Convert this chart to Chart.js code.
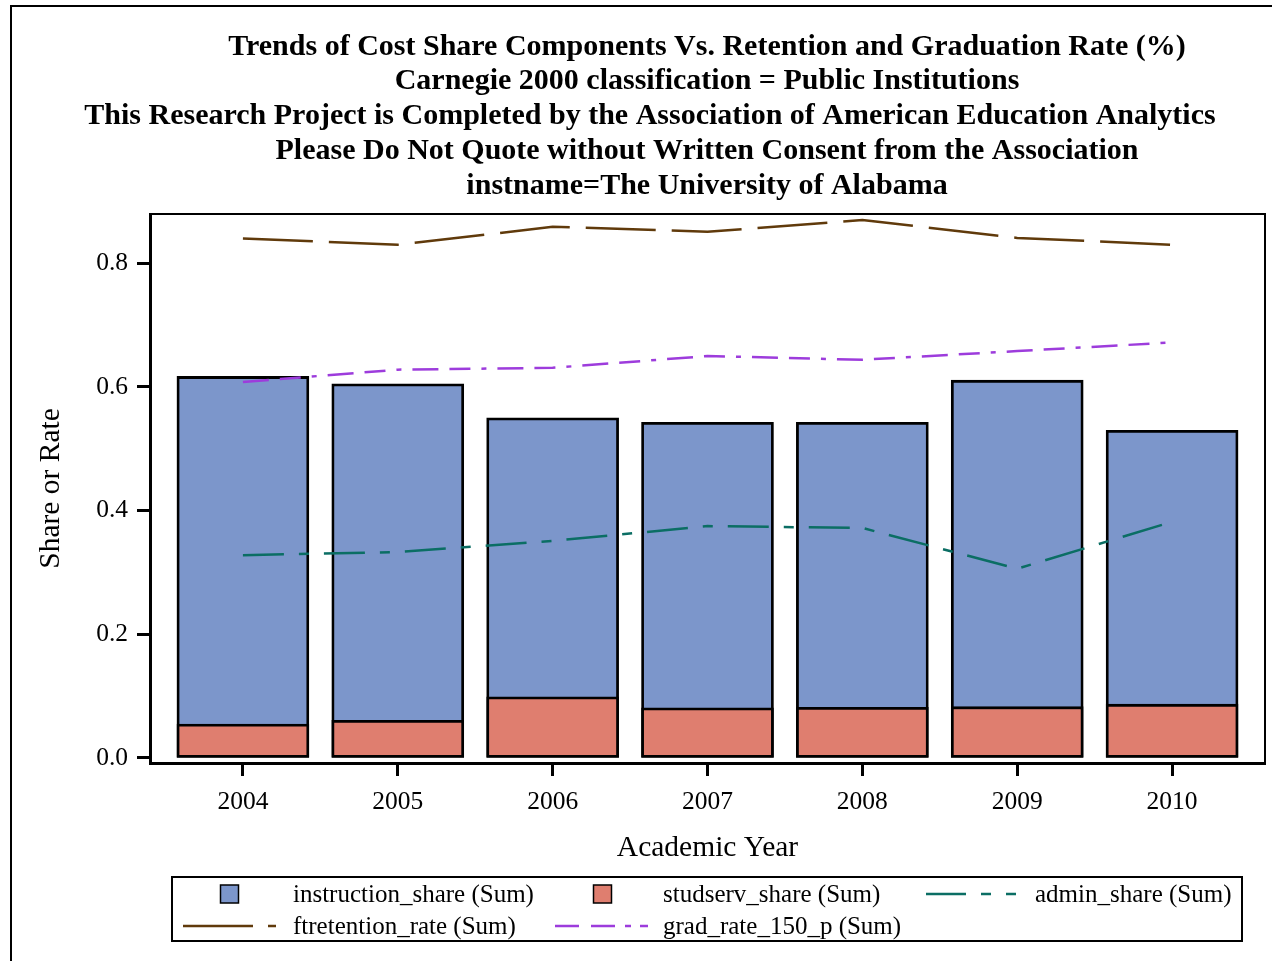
<!DOCTYPE html>
<html lang="en">
<head>
  <meta charset="UTF-8">
  <title>Cost Share vs Retention and Graduation</title>
  <script src="https://cdn.jsdelivr.net/npm/chart.js"></script>
  <style>
    body { margin: 0; background: #fff; }
    canvas { display: block; }
  </style>
</head>
<body>
<canvas id="grafico" width="1272" height="961"></canvas>

<script>
  // dados
  const years = [2004, 2005, 2006, 2007, 2008, 2009, 2010];
  const instructionShare = [0.617, 0.605, 0.550, 0.543, 0.543, 0.611, 0.530];
  const studservShare = [0.055, 0.061, 0.099, 0.081, 0.082, 0.083, 0.087];
  const adminShare = [0.328, 0.333, 0.351, 0.375, 0.372, 0.306, 0.382];
  const ftretentionRate = [0.840, 0.830, 0.859, 0.851, 0.870, 0.841, 0.830];
  const gradRate150 = [0.608, 0.628, 0.631, 0.650, 0.644, 0.658, 0.672];
  const yTicks = [0, 0.2, 0.4, 0.6, 0.8];

  const titleLines = [
    'Trends of Cost Share Components Vs. Retention and Graduation Rate (%)',
    'Carnegie 2000 classification = Public Institutions',
    'This Research Project is Completed by the Association of American Education Analytics',
    'Please Do Not Quote without Written Consent from the Association',
    'instname=The University of Alabama'
  ];

  const serif = '"Liberation Serif", "DejaVu Serif", serif';
  const pts = vals => vals.map((v, i) => ({ x: years[i], y: v }));

  // legenda desenhada a mao (estilo SAS)
  const legendItems = [
    { ds: 0, kind: 'box', col: 0, row: 0, label: 'instruction_share (Sum)' },
    { ds: 1, kind: 'box', col: 1, row: 0, label: 'studserv_share (Sum)' },
    { ds: 2, kind: 'line', col: 2, row: 0, label: 'admin_share (Sum)', dash: [40, 15, 10, 15, 10, 15] },
    { ds: 3, kind: 'line', col: 0, row: 1, label: 'ftretention_rate (Sum)', dash: [70, 15] },
    { ds: 4, kind: 'line', col: 1, row: 1, label: 'grad_rate_150_p (Sum)', dash: [24, 12, 24, 10, 6, 9, 8, 10] }
  ];

  const decor = {
    id: 'decor',
    beforeDraw(chart) {
      const ctx = chart.ctx;
      ctx.save();
      ctx.fillStyle = '#fff';
      ctx.fillRect(0, 0, chart.width, chart.height);
      ctx.strokeStyle = '#000';
      ctx.lineWidth = 2;
      ctx.beginPath();
      ctx.moveTo(11, chart.height);
      ctx.lineTo(11, 6);
      ctx.lineTo(chart.width, 6);
      ctx.stroke();
      ctx.restore();
    },
    afterDraw(chart) {
      const ctx = chart.ctx;
      const a = chart.chartArea;
      ctx.save();

      // moldura do grafico (topo e direita)
      ctx.strokeStyle = '#000';
      ctx.lineWidth = 2;
      ctx.beginPath();
      ctx.moveTo(a.left, a.top);
      ctx.lineTo(a.right, a.top);
      ctx.lineTo(a.right, a.bottom);
      ctx.stroke();

      // titulos
      ctx.fillStyle = '#000';
      ctx.textAlign = 'center';
      ctx.textBaseline = 'middle';
      ctx.font = 'bold 30px ' + serif;
      const centers = [707, 707, 650, 707, 707];
      titleLines.forEach((t, i) => ctx.fillText(t, centers[i], 47 + i * 34.7));

      // titulos dos eixos
      ctx.font = '29.5px ' + serif;
      ctx.fillText('Academic Year', (a.left + a.right) / 2, 848);
      ctx.save();
      ctx.translate(51, (a.top + a.bottom) / 2);
      ctx.rotate(-Math.PI / 2);
      ctx.fillText('Share or Rate', 0, 0);
      ctx.restore();

      // legenda
      ctx.lineWidth = 2;
      ctx.strokeRect(172, 877, 1070, 64);
      const cols = [[183, 276, 293], [555, 650, 663], [926, 1020, 1035]];
      const rows = [894, 926];
      ctx.font = '25px ' + serif;
      ctx.textAlign = 'left';
      legendItems.forEach(it => {
        const ds = chart.data.datasets[it.ds];
        const [x0, x1, tx] = cols[it.col];
        const y = rows[it.row];
        if (it.kind === 'box') {
          const cx = (x0 + x1) / 2;
          ctx.fillStyle = ds.backgroundColor;
          ctx.fillRect(cx - 9, y - 9, 18, 18);
          ctx.strokeStyle = '#000';
          ctx.lineWidth = 1.5;
          ctx.strokeRect(cx - 9, y - 9, 18, 18);
        } else {
          ctx.strokeStyle = ds.borderColor;
          ctx.lineWidth = 2.5;
          ctx.setLineDash(it.dash);
          ctx.beginPath();
          ctx.moveTo(x0, y);
          ctx.lineTo(x1, y);
          ctx.stroke();
          ctx.setLineDash([]);
        }
        ctx.fillStyle = '#000';
        ctx.fillText(it.label, tx, y + 1);
      });
      ctx.restore();
    }
  };

  const config = {
    type: 'bar',
    data: {
      datasets: [
        {
          label: 'instruction_share (Sum)',
          data: pts(instructionShare),
          backgroundColor: '#7C96CB',
          borderColor: '#000',
          borderWidth: 2.8,
          borderSkipped: false,
          barThickness: 132,
          grouped: false,
          order: 3
        },
        {
          label: 'studserv_share (Sum)',
          data: pts(studservShare),
          backgroundColor: '#DF7E6F',
          borderColor: '#000',
          borderWidth: 2.8,
          borderSkipped: false,
          barThickness: 132,
          grouped: false,
          order: 2
        },
        {
          type: 'line',
          label: 'admin_share (Sum)',
          data: pts(adminShare),
          borderColor: '#0B6E64',
          borderWidth: 2.5,
          borderDash: [41, 15, 10, 15],
          pointRadius: 0,
          tension: 0,
          order: 1
        },
        {
          type: 'line',
          label: 'ftretention_rate (Sum)',
          data: pts(ftretentionRate),
          borderColor: '#603A0B',
          borderWidth: 2.5,
          borderDash: [70, 16],
          pointRadius: 0,
          tension: 0,
          order: 1
        },
        {
          type: 'line',
          label: 'grad_rate_150_p (Sum)',
          data: pts(gradRate150),
          borderColor: '#9D3CDC',
          borderWidth: 2.5,
          borderDash: [26, 11, 21, 11, 5, 11],
          pointRadius: 0,
          tension: 0,
          order: 1
        }
      ]
    },
    options: {
      responsive: false,
      animation: false,
      layout: { padding: { top: 214, right: 7, left: 0, bottom: 0 } },
      plugins: {
        legend: { display: false },
        title: { display: false },
        tooltip: { enabled: false }
      },
      scales: {
        x: {
          type: 'linear',
          offset: false,
          min: 2003.4,
          max: 2010.6,
          afterFit: s => { s.height = 198; },
          afterBuildTicks: s => { s.ticks = years.map(v => ({ value: v })); },
          grid: { offset: false, drawOnChartArea: false, drawTicks: true, tickLength: 13, tickWidth: 3, tickColor: '#000' },
          border: { display: true, color: '#000', width: 3 },
          ticks: {
            color: '#000',
            font: { family: serif, size: 25.5 },
            padding: 11,
            maxRotation: 0,
            autoSkip: false,
            callback: v => String(v)
          }
        },
        y: {
          min: -0.0081,
          max: 0.8797,
          afterFit: s => { s.width = 150; },
          afterBuildTicks: s => { s.ticks = yTicks.map(v => ({ value: v })); },
          grid: { drawOnChartArea: false, drawTicks: true, tickLength: 13, tickWidth: 3, tickColor: '#000' },
          border: { display: true, color: '#000', width: 3 },
          ticks: {
            color: '#000',
            font: { family: serif, size: 25.5 },
            padding: 9,
            callback: v => v.toFixed(1)
          }
        }
      }
    },
    plugins: [decor]
  };

  new Chart(document.getElementById('grafico').getContext('2d'), config);
</script>
</body>
</html>
